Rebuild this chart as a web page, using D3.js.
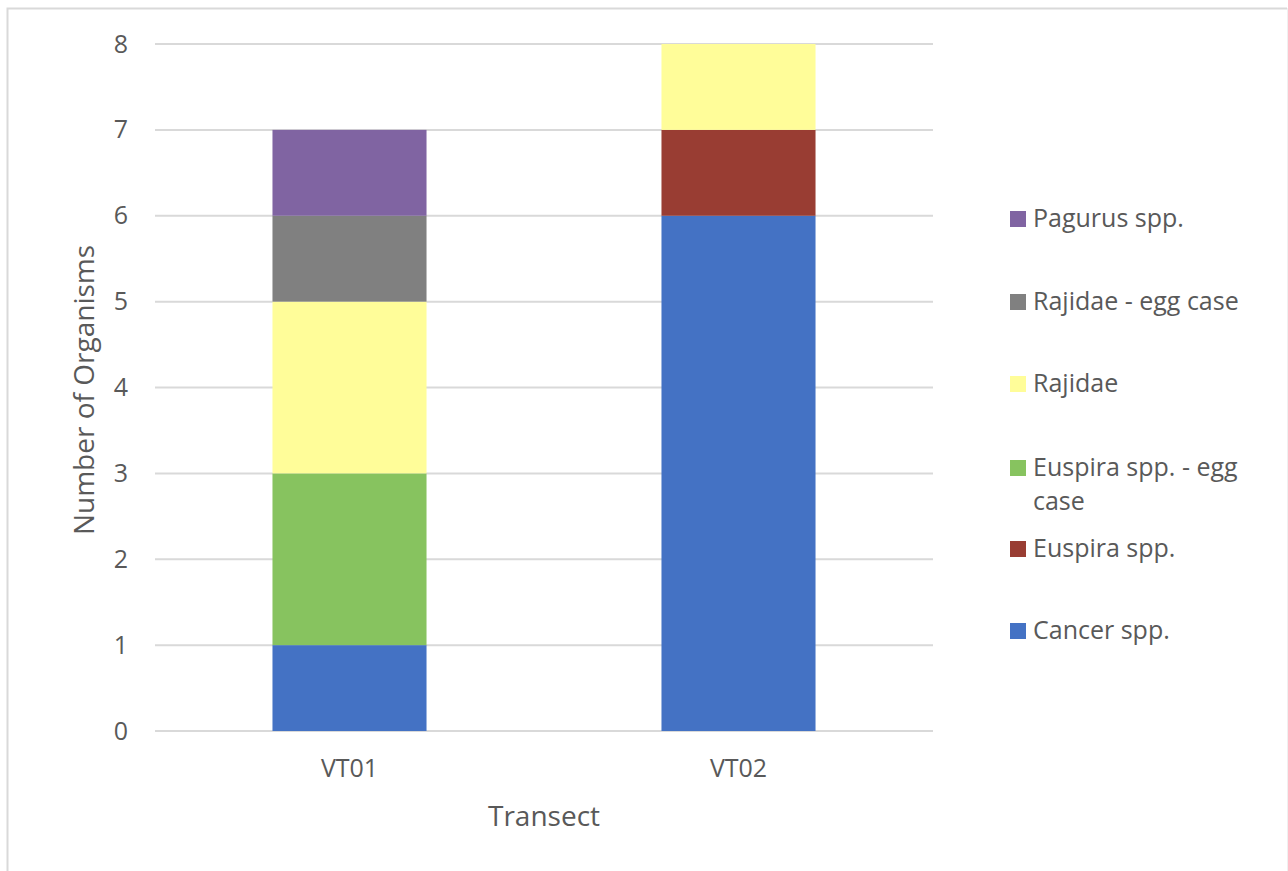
<!DOCTYPE html>
<html>
<head>
<meta charset="utf-8">
<script src="https://cdn.jsdelivr.net/npm/d3@7"></script>
<style>
  html, body { margin: 0; padding: 0; background: #fff; }
  svg { display: block; }
  text { font-family: "Open Sans", "Noto Sans", sans-serif; fill: #595959; }
</style>
</head>
<body>
<svg id="chart" width="1288" height="871"></svg>
<script>
// Transects and organism counts per taxon (stacked bottom to top)
const transects = ["VT01", "VT02"];
const taxa = ["Cancer spp.", "Euspira spp.", "Euspira spp. - egg case", "Rajidae", "Rajidae - egg case", "Pagurus spp."];
const cancer = [1, 6];
const euspira = [0, 1];
const euspiraEgg = [2, 0];
const rajidae = [2, 1];
const rajidaeEgg = [1, 0];
const pagurus = [1, 0];
const yTicks = [0, 1, 2, 3, 4, 5, 6, 7, 8];
const colors = ["#4472C4", "#993D33", "#87C35F", "#FFFD99", "#808080", "#8064A2"];

const seriesValues = [cancer, euspira, euspiraEgg, rajidae, rajidaeEgg, pagurus];
const rows = transects.map((t, i) => {
  const r = { transect: t };
  taxa.forEach((k, j) => { r[k] = seriesValues[j][i]; });
  return r;
});

const svg = d3.select("#chart");

// chart frame: left and top edges, faint right edge; bottom runs off the page
svg.append("path").attr("d", "M7.5,871 V8.5 H1287")
  .attr("fill", "none").attr("stroke", "#d9d9d9").attr("stroke-width", 2);
svg.append("line").attr("x1", 1287.5).attr("x2", 1287.5).attr("y1", 8).attr("y2", 871)
  .attr("stroke", "#f0f0f0").attr("stroke-width", 1);

const plot = { left: 155, right: 933, top: 44, bottom: 731 };

const x = d3.scaleBand().domain(transects)
  .range([plot.left, plot.right]).paddingInner(0.604).paddingOuter(0.302);
const y = d3.scaleLinear().domain([0, 8]).range([plot.bottom, plot.top]);

// horizontal gridlines
svg.append("g").selectAll("line").data(yTicks).join("line")
  .attr("x1", plot.left).attr("x2", plot.right)
  .attr("y1", d => y(d)).attr("y2", d => y(d))
  .attr("stroke", "#d9d9d9").attr("stroke-width", 2);

// y axis labels
const yAxis = d3.axisLeft(y).tickValues(yTicks).tickSize(0).tickPadding(0);
const gy = svg.append("g").attr("transform", `translate(${plot.left - 27},0)`).call(yAxis);
gy.select(".domain").remove();
gy.selectAll("text").style("font-size", "25px").style("fill", "#595959")
  .style("font-family", "'Open Sans', sans-serif");

// x axis labels
const xAxis = d3.axisBottom(x).tickSize(0).tickPadding(0);
const gx = svg.append("g").attr("transform", `translate(0,${plot.bottom + 28})`).call(xAxis);
gx.select(".domain").remove();
gx.selectAll("text").style("font-size", "25px").style("fill", "#595959")
  .style("font-family", "'Open Sans', sans-serif");

// stacked bars
const stacked = d3.stack().keys(taxa)(rows);
svg.append("g").selectAll("g").data(stacked).join("g")
  .attr("fill", (d, i) => colors[i])
  .selectAll("rect").data(d => d.filter(s => s[1] > s[0])).join("rect")
  .attr("x", d => x(d.data.transect))
  .attr("width", x.bandwidth())
  .attr("y", d => y(d[1]))
  .attr("height", d => y(d[0]) - y(d[1]));

// axis titles
svg.append("text").attr("x", 544).attr("y", 826).attr("text-anchor", "middle")
  .style("font-size", "28px").text("Transect");
svg.append("text").attr("transform", "translate(94,390) rotate(-90)")
  .attr("text-anchor", "middle").style("font-size", "28px").text("Number of Organisms");

// legend, listed top to bottom in reverse stacking order
const legendY = [218, 301, 383, 467, 548, 630];
const legendOrder = taxa.map((t, i) => ({ name: t, color: colors[i] })).reverse();
const lg = svg.append("g");
legendOrder.forEach((d, i) => {
  const g = lg.append("g").attr("transform", `translate(1010,${legendY[i]})`);
  g.append("rect").attr("x", 0).attr("y", -7).attr("width", 16).attr("height", 16).attr("fill", d.color);
  const t = g.append("text").attr("x", 23).attr("y", 0).attr("dy", "0.36em").style("font-size", "25px");
  // wrap long names onto a second line
  const words = d.name.split(" ");
  let line = [];
  let tspan = t.append("tspan").attr("x", 23);
  words.forEach(w => {
    line.push(w);
    tspan.text(line.join(" "));
    if (tspan.node().getComputedTextLength() > 232 && line.length > 1) {
      line.pop();
      tspan.text(line.join(" "));
      line = [w];
      tspan = t.append("tspan").attr("x", 23).attr("dy", "1.36em").text(w);
    }
  });
});
</script>
</body>
</html>
